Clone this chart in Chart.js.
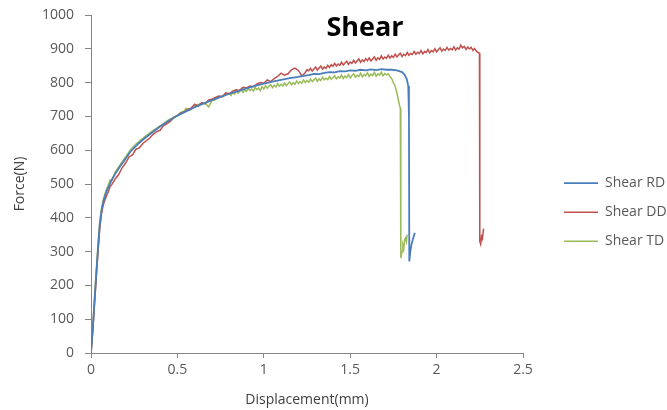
<!DOCTYPE html>
<html><head><meta charset="utf-8">
<script src="https://cdn.jsdelivr.net/npm/chart.js@4/dist/chart.umd.min.js"></script>
<style>html,body{margin:0;padding:0;background:#fff}#wrap{width:667px;height:410px}</style>
</head><body><div id="wrap"><canvas id="c" width="667" height="410"></canvas></div>
<script>
const chartTitle = 'Shear';
const seriesNames = ['Shear RD', 'Shear DD', 'Shear TD'];
const xAxisTitle = 'Displacement(mm)';
const yAxisTitle = 'Force(N)';

const rdX = [0,0.01,0.02,0.03,0.04,0.05,0.06,0.07,0.08,0.09,0.10,0.12,0.14,0.17,0.20,0.23,0.27,0.30,0.35,0.40,0.45,0.50,0.55,0.60,0.65,0.70,0.75,0.80,0.85,0.90,0.95,1.00,1.05,1.10,1.15,1.20,1.23,1.26,1.29,1.32,1.35,1.38,1.41,1.44,1.47,1.50,1.53,1.56,1.59,1.62,1.65,1.68,1.71,1.74,1.77,1.80,1.815,1.828,1.836,1.840,1.842,1.848,1.855,1.862,1.874];
const rdY = [0,70,150,230,305,375,418,445,463,478,490,512,530,553,575,597,617,631,651,670,687,702,715,727,738,748,758,767,775,783,790,797,803,808,813,817,820,822,826,825,829,831,830,834,833,836,835,838,836,839,837,840,838,838,836,831,823,810,790,700,271,300,322,335,356];

const ddX = [0,0.01,0.02,0.03,0.04,0.05,0.06,0.07,0.08,0.09,0.10,0.11,0.12,0.13,0.14,0.16,0.18,0.20,0.22,0.24,0.26,0.28,0.30,0.32,0.34,0.36,0.38,0.40,0.42,0.44,0.46,0.48,0.50,0.52,0.54,0.56,0.58,0.60,0.62,0.64,0.66,0.68,0.70,0.72,0.74,0.76,0.78,0.80,0.82,0.84,0.86,0.88,0.90,0.92,0.94,0.96,0.98,1.00,1.02,1.04,1.06,1.08,1.10,1.12,1.14,1.16,1.18,
  1.20,1.21,1.22,1.23,1.24,1.25,1.26,1.27,1.28,1.29,1.30,1.31,1.32,1.33,1.34,1.35,1.36,1.37,1.38,1.39,1.40,1.41,1.42,1.43,1.44,1.45,1.46,1.47,1.48,1.49,1.50,1.51,1.52,1.53,1.54,1.55,1.56,1.57,1.58,1.59,1.60,1.61,1.62,1.63,1.64,1.65,1.66,1.67,1.68,1.69,1.70,1.71,1.72,1.73,1.74,1.75,1.76,1.77,1.78,1.79,1.80,1.81,1.82,1.83,1.84,1.85,1.86,1.87,1.88,1.89,1.90,1.91,1.92,1.93,1.94,1.95,1.96,1.97,1.98,1.99,2.00,2.01,2.02,2.03,2.04,2.05,2.06,2.07,2.08,2.09,2.10,2.11,2.12,2.13,2.14,2.15,2.16,2.17,2.18,2.19,2.20,2.21,2.22,2.23,2.24,2.248,2.250,2.255,2.260,2.265,2.272];
const ddY = [0,62,142,220,295,365,410,436,452,465,477,492,498,506,515,528,548,562,580,586,603,607,620,628,636,647,655,659,673,679,686,697,702,710,713,721,725,736,730,741,737,749,751,756,760,759,770,767,775,779,777,786,784,790,788,796,800,798,808,803,812,818,828,822,826,838,843,
  836,829,819,824,830,838,835,842,834,840,846,837,843,849,840,846,842,851,845,853,848,857,849,855,851,860,852,858,863,854,861,857,866,858,864,870,860,867,862,871,865,873,864,870,876,866,873,869,879,870,876,872,881,873,879,875,884,876,882,887,877,884,880,889,881,886,883,892,884,890,886,895,885,892,889,898,888,895,891,900,891,897,903,893,899,895,904,896,901,897,906,896,903,899,911,903,907,898,905,900,904,895,901,893,889,887,330,322,345,338,368];

const tdX = [0,0.01,0.02,0.03,0.04,0.05,0.06,0.07,0.08,0.09,0.10,0.11,0.12,0.14,0.17,0.20,0.23,0.26,0.30,0.35,0.40,0.45,0.50,0.52,0.54,0.55,0.57,0.60,0.62,0.64,0.66,0.68,0.70,0.72,0.74,0.76,0.78,
  0.80,0.81,0.82,0.83,0.84,0.85,0.86,0.87,0.88,0.89,0.90,0.91,0.92,0.93,0.94,0.95,0.96,0.97,0.98,0.99,1.00,1.01,1.02,1.03,1.04,1.05,1.06,1.07,1.08,1.09,1.10,1.11,1.12,1.13,1.14,1.15,1.16,1.17,1.18,1.19,1.20,1.21,1.22,1.23,1.24,1.25,1.26,1.27,1.28,1.29,1.30,1.31,1.32,1.33,1.34,1.35,1.36,1.37,1.38,1.39,1.40,1.41,1.42,1.43,1.44,1.45,1.46,1.47,1.48,1.49,1.50,1.51,1.52,1.53,1.54,1.55,1.56,1.57,1.58,1.59,1.60,1.61,1.62,1.63,1.64,1.65,1.66,1.67,1.68,1.69,1.70,1.71,1.72,1.73,1.74,1.75,1.76,1.77,1.778,1.785,1.790,1.793,1.800,1.805,1.810,1.815,1.820,1.825,1.830];
const tdY = [0,75,160,240,315,385,425,452,470,485,496,512,510,535,558,580,602,618,635,655,672,690,704,712,716,724,718,730,735,738,740,728,746,750,756,758,764,
  768,762,771,766,776,769,773,780,771,778,774,783,776,781,775,786,779,784,776,788,781,791,783,789,794,785,792,787,797,789,795,790,799,791,797,802,793,800,795,805,797,803,798,808,800,806,801,811,803,808,813,804,811,806,816,808,813,809,818,810,815,820,811,817,813,822,812,819,815,824,814,821,826,816,822,818,828,817,824,820,829,818,825,821,830,819,826,822,831,820,827,823,826,818,812,800,790,770,750,733,725,281,300,320,310,335,340,330,350];

const xTickValues = [0, 0.5, 1, 1.5, 2, 2.5];
const yTickValues = [0,100,200,300,400,500,600,700,800,900,1000];

const colors = ['#4a7ebb', '#c0504d', '#9bbb59'];
const pts = (xs, ys) => xs.map((x, i) => ({x, y: ys[i]}));

const titlePlugin = {
  id: 'shearTitle',
  afterDraw(chart) {
    const ctx = chart.ctx;
    ctx.save();
    ctx.font = 'bold 27px "Open Sans"';
    ctx.fillStyle = '#000';
    ctx.textAlign = 'center';
    ctx.textBaseline = 'middle';
    ctx.fillText(chartTitle, 365, 28);
    ctx.restore();
  }
};

const legendShift = {
  id: 'legendShift',
  afterLayout(chart) {
    const lg = chart.legend;
    if (lg) { lg.left += 26; lg.right += 26; }
  }
};

const tickFont = {family: 'Open Sans', size: 14};
const gray = '#868686';

new Chart(document.getElementById('c'), {
  type: 'line',
  data: {
    datasets: [
      {label: seriesNames[0], data: pts(rdX, rdY), borderColor: colors[0], backgroundColor: colors[0], borderWidth: 1.8, pointRadius: 0, tension: 0},
      {label: seriesNames[1], data: pts(ddX, ddY), borderColor: colors[1], backgroundColor: colors[1], borderWidth: 1.5, pointRadius: 0, tension: 0},
      {label: seriesNames[2], data: pts(tdX, tdY), borderColor: colors[2], backgroundColor: colors[2], borderWidth: 1.5, pointRadius: 0, tension: 0}
    ]
  },
  options: {
    responsive: false,
    animation: false,
    devicePixelRatio: 1,
    layout: {padding: 0},
    plugins: {
      title: {display: false},
      tooltip: {enabled: false},
      legend: {
        position: 'right',
        align: 'center',
        title: {display: true, text: ' ', padding: 0, font: {size: 12}},
        labels: {usePointStyle: true, pointStyle: 'line', pointStyleWidth: 34, padding: 15, color: '#595959', font: tickFont}
      }
    },
    scales: {
      x: {
        type: 'linear', min: 0, max: 2.5,
        afterBuildTicks: s => { s.ticks = xTickValues.map(v => ({value: v})); },
        ticks: {color: '#595959', font: tickFont, padding: 4, maxRotation: 0, callback: v => String(v)},
        grid: {display: true, drawOnChartArea: false, drawTicks: true, tickLength: 5, color: gray},
        border: {display: true, color: gray, width: 1},
        title: {display: true, text: xAxisTitle, color: '#404040', font: {family: 'Open Sans', size: 14}, padding: {top: 0, bottom: 2}},
        afterFit: s => { s.height = 57; s.paddingRight = 144; s.paddingLeft = 0; }
      },
      y: {
        type: 'linear', min: 0, max: 1000,
        afterBuildTicks: s => { s.ticks = yTickValues.map(v => ({value: v})); },
        ticks: {color: '#595959', font: tickFont, padding: 11, callback: v => String(v)},
        grid: {display: true, drawOnChartArea: false, drawTicks: true, tickLength: 6, color: gray},
        border: {display: true, color: gray, width: 1},
        title: {display: true, text: yAxisTitle, color: '#404040', font: {family: 'Open Sans', size: 14}, padding: {top: 12, bottom: 0}},
        afterFit: s => { s.width = 91; s.paddingTop = 15; s.paddingBottom = 0; }
      }
    }
  },
  plugins: [titlePlugin, legendShift]
});
</script>
</body></html>
